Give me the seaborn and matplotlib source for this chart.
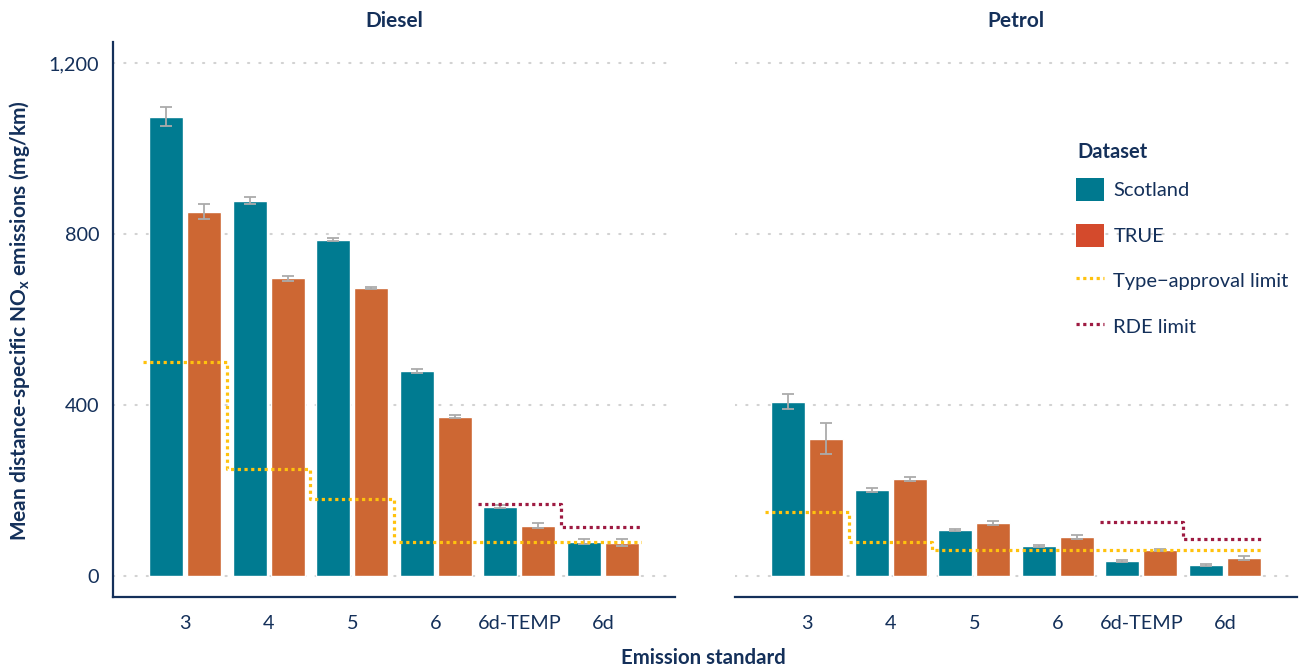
import matplotlib
matplotlib.use("Agg")
import matplotlib.pyplot as plt
import pandas as pd
import seaborn as sns
from matplotlib.patches import Patch
from matplotlib.lines import Line2D

# ---- data -------------------------------------------------------------
standards = ["3", "4", "5", "6", "6d-TEMP", "6d"]
datasets = ["Scotland", "TRUE"]
fuels = ["Diesel", "Petrol"]

diesel_scotland = [1074, 878, 787, 480, 162, 80]
diesel_scotland_err = [22, 8, 4, 4, 3, 6]
diesel_true = [852, 696, 674, 373, 118, 78]
diesel_true_err = [17, 5, 3, 3, 5, 8]

petrol_scotland = [408, 201, 108, 70, 35, 26]
petrol_scotland_err = [18, 5, 3, 3, 2, 2]
petrol_true = [321, 227, 124, 91, 61, 42]
petrol_true_err = [36, 5, 4, 4, 3, 5]

diesel_type_approval = [500, 250, 180, 80, 80, 80]
petrol_type_approval = [150, 80, 60, 60, 60, 60]
rde_standards = ["6d-TEMP", "6d"]
diesel_rde = [168, 114]
petrol_rde = [126, 86]

y_ticks = [0, 400, 800, 1200]
y_tick_labels = ["0", "400", "800", "1,200"]

# ---- tidy table -------------------------------------------------------
rows = []
for fuel, sets in [("Diesel", [(diesel_scotland, diesel_scotland_err), (diesel_true, diesel_true_err)]),
                   ("Petrol", [(petrol_scotland, petrol_scotland_err), (petrol_true, petrol_true_err)])]:
    for ds, (vals, errs) in zip(datasets, sets):
        for s, v, e in zip(standards, vals, errs):
            rows.append({"fuel": fuel, "standard": s, "dataset": ds, "value": v, "err": e})
df = pd.DataFrame(rows)

limits = {
    "Diesel": (diesel_type_approval, diesel_rde),
    "Petrol": (petrol_type_approval, petrol_rde),
}

# ---- style ------------------------------------------------------------
sns.set_theme(style="white")
plt.rcParams["font.family"] = ["Lato", "DejaVu Sans"]
plt.rcParams["mathtext.fontset"] = "custom"
plt.rcParams["mathtext.rm"] = "Lato:bold"
plt.rcParams["mathtext.it"] = "Lato:bold"
plt.rcParams["mathtext.bf"] = "Lato:bold"

navy = "#14305A"
bar_colors = {"Scotland": "#007B91", "TRUE": "#CD6733"}
legend_colors = {"Scotland": "#00798F", "TRUE": "#D44A2C"}
ta_color = "#FFC20E"
rde_color = "#9E1B42"
err_color = "#ABABAB"
grid_color = "#D2D2D2"

W, H = 1308, 669
fig = plt.figure(figsize=(W / 100, H / 100), dpi=100)

def px_axes(x0, x1, y0, y1):
    return fig.add_axes([x0 / W, 1 - y1 / H, (x1 - x0) / W, (y1 - y0) / H])

axes = [px_axes(113, 675, 42, 597), px_axes(735, 1297, 42, 597)]

for ax, fuel in zip(axes, fuels):
    sub = df[df.fuel == fuel]
    sns.barplot(data=sub, x="standard", y="value", hue="dataset",
                order=standards, hue_order=datasets, palette=bar_colors,
                width=0.909, gap=0.105, errorbar=None, saturation=1,
                legend=False, ax=ax, zorder=2)

    # error bars at the centre of each drawn bar
    for container, ds in zip(ax.containers, datasets):
        part = sub[sub.dataset == ds].set_index("standard").loc[standards]
        for bar, v, e in zip(container, part["value"], part["err"]):
            xc = bar.get_x() + bar.get_width() / 2
            ax.errorbar(xc, v, yerr=e, color=err_color, capsize=4.6,
                        elinewidth=1.3, capthick=1.3, zorder=3)

    # limit step lines
    ta, rde = limits[fuel]
    n = len(standards)
    xs = [i - 0.5 for i in range(n)] + [n - 1 + 0.45]
    ax.plot(xs, ta + [ta[-1]], drawstyle="steps-post", color=ta_color,
            lw=2.3, ls=(0, (1, 1.1)), zorder=4)
    ri = [standards.index(s) for s in rde_standards]
    rx = [i - 0.5 for i in ri] + [ri[-1] + 0.45]
    ax.plot(rx, rde + [rde[-1]], drawstyle="steps-post", color=rde_color,
            lw=2.3, ls=(0, (1, 1.1)), zorder=4)

    ax.set_xlim(-0.86, n - 1 + 0.86)
    ax.set_ylim(-49, 1249)
    ax.set_yticks(y_ticks)
    ax.set_yticklabels(y_tick_labels)
    ax.set_xlabel("")
    ax.set_ylabel("")
    ax.yaxis.grid(True, color=grid_color, lw=1.5, ls=(0, (0.6, 4.8)),
                  dash_capstyle="round")
    ax.set_axisbelow(True)
    ax.tick_params(axis="both", length=0, labelsize=14.3, labelcolor=navy)
    ax.tick_params(axis="x", pad=13)
    ax.tick_params(axis="y", pad=10)
    for side in ["top", "right"]:
        ax.spines[side].set_visible(False)
    ax.spines["bottom"].set_color(navy)
    ax.spines["bottom"].set_linewidth(1.6)
    ax.spines["left"].set_color(navy)
    ax.spines["left"].set_linewidth(1.6)
    ax.set_title(fuel, fontsize=15, fontweight="bold", color=navy, pad=11)

axes[1].spines["left"].set_visible(False)
axes[1].tick_params(axis="y", labelleft=False)

fig.text(20 / W, 1 - 321 / H, "Mean distance-specific NO$_\\mathrm{x}$ emissions (mg/km)",
         rotation=90, ha="center", va="center", fontsize=15,
         fontweight="bold", color=navy)
fig.text(703 / W, 1 - 658 / H, "Emission standard", ha="center", va="center",
         fontsize=14.7, fontweight="bold", color=navy)

# legend: title placed as its own text, entries below it
fig.text(1077 / W, 1 - 152 / H, "Dataset", ha="left", va="center",
         fontsize=14.5, fontweight="bold", color=navy)
handles = [
    Patch(facecolor=legend_colors["Scotland"], edgecolor="none", label="Scotland"),
    Patch(facecolor=legend_colors["TRUE"], edgecolor="none", label="TRUE"),
    Line2D([], [], color=ta_color, lw=2.3, ls=(0, (1, 1.1)), label="Type\u2212approval limit"),
    Line2D([], [], color=rde_color, lw=2.3, ls=(0, (1, 1.1)), label="RDE limit"),
]
leg = fig.legend(handles=handles, loc="upper left",
                 bbox_to_anchor=(1060 / W, 1 - 162 / H), frameon=False,
                 fontsize=14.5, borderpad=0.3,
                 handlelength=1.4, handleheight=1.4, labelspacing=1.1,
                 handletextpad=0.45, alignment="left")
for t in leg.get_texts():
    t.set_color(navy)

fig.savefig("out.png", dpi=100)
